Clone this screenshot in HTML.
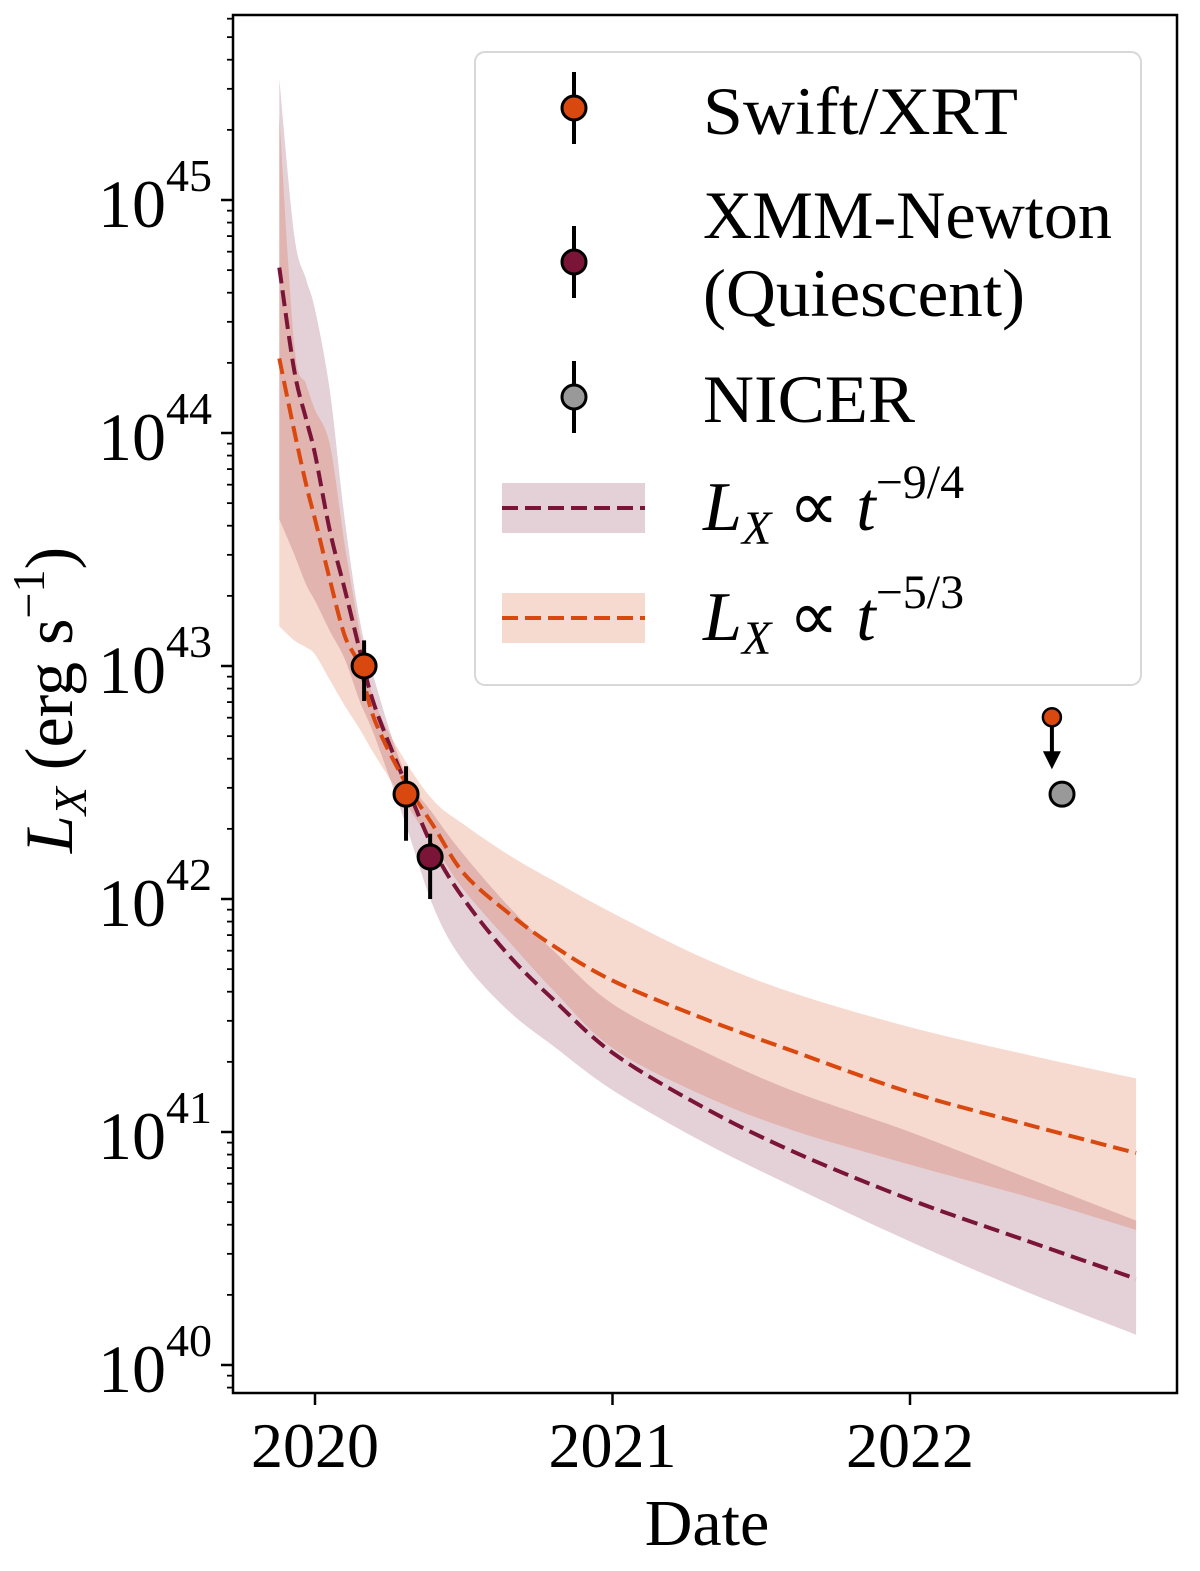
<!DOCTYPE html>
<html><head><meta charset="utf-8"><style>
html,body{margin:0;padding:0;background:#fff;}
svg{display:block;font-family:"Liberation Serif",serif;}
</style></head><body>
<svg id="chart" width="1200" height="1571" viewBox="0 0 1200 1571" xmlns="http://www.w3.org/2000/svg">
<g id="bands"></g><g id="lines"></g><g id="points"></g><g id="axes"></g><g id="legend"></g>
</svg>
<script>
// ---- data ----
const dates = [2019.88,2019.93,2019.97,2020.0,2020.05,2020.1,2020.15,2020.2,2020.3,2020.4,2020.5,2020.65,2020.8,2021.0,2021.3,2021.6,2022.0,2022.4,2022.76];
const logL_t94 = [44.71,44.27,44.06,43.91,43.58,43.33,43.07,42.83,42.51,42.21,42.00,41.76,41.57,41.34,41.11,40.92,40.71,40.53,40.37];
const logL_t94_hi = [45.52,44.85,44.66,44.53,44.18,43.63,43.20,42.94,42.55,42.36,42.19,41.97,41.78,41.55,41.35,41.18,41.00,40.80,40.62];
const logL_t94_lo = [43.63,43.48,43.35,43.28,43.15,43.03,42.85,42.70,42.34,41.96,41.73,41.52,41.37,41.18,40.96,40.77,40.53,40.31,40.13];
const logL_t53 = [44.32,44.01,43.78,43.63,43.37,43.13,43.00,42.77,42.51,42.31,42.11,41.94,41.80,41.65,41.49,41.35,41.17,41.03,40.91];
const logL_t53_hi = [45.36,44.38,44.21,44.10,43.95,43.52,43.15,42.85,42.60,42.42,42.32,42.19,42.08,41.94,41.75,41.60,41.45,41.33,41.23];
const logL_t53_lo = [43.17,43.11,43.08,43.05,42.94,42.83,42.73,42.62,42.42,42.23,42.04,41.82,41.61,41.36,41.16,41.01,40.86,40.72,40.58];
const swiftDates = [2020.165,2020.306];
const swiftLog = [43.00,42.45];
const swiftErrHi = [43.11,42.57];
const swiftErrLo = [42.85,42.25];
const swiftLimDate = [2022.477];
const swiftLimLog = [42.78];
const xmmDates = [2020.387];
const xmmLog = [42.18];
const xmmErrHi = [42.28];
const xmmErrLo = [42.00];
const nicerDates = [2022.511];
const nicerLog = [42.45];
const nicerErrHi = [42.49];
const nicerErrLo = [42.40];
const yDecades = [40,41,42,43,44,45];
const xTicks = [2020,2021,2022];

// ---- axes ----
const PL=233, PR=1177, PT=15, PB=1393;
const X = d => 315 + (d-2020)*297.5;
const Y = l => 200 + (45-l)*233;
const NS="http://www.w3.org/2000/svg";
function mk(tag, attrs, parent){const e=document.createElementNS(NS,tag);for(const k in attrs)e.setAttribute(k,attrs[k]);parent.appendChild(e);return e;}
const gB=document.getElementById('bands'),gL=document.getElementById('lines'),gP=document.getElementById('points'),gA=document.getElementById('axes'),gG=document.getElementById('legend');
const PUR="#7a1538", ORA="#d9480f";

function smooth(pts){
  let d="";
  for(let i=0;i<pts.length-1;i++){
    const p0=pts[Math.max(0,i-1)],p1=pts[i],p2=pts[i+1],p3=pts[Math.min(pts.length-1,i+2)];
    const c1x=p1[0]+(p2[0]-p0[0])/6,c1y=p1[1]+(p2[1]-p0[1])/6;
    const c2x=p2[0]-(p3[0]-p1[0])/6,c2y=p2[1]-(p3[1]-p1[1])/6;
    d+=` C${c1x.toFixed(1)},${c1y.toFixed(1)} ${c2x.toFixed(1)},${c2y.toFixed(1)} ${p2[0].toFixed(1)},${p2[1].toFixed(1)}`;
  }
  return d;
}
function band(hi,lo,color,name){
  const up=dates.map((t,i)=>[X(t),Y(hi[i])]);
  const dn=dates.map((t,i)=>[X(t),Y(lo[i])]).reverse();
  let d="M"+up[0][0]+","+up[0][1]+smooth(up)+" L"+dn[0][0]+","+dn[0][1]+smooth(dn)+"Z";
  const p=mk('path',{d:d,fill:color,'fill-opacity':0.2,stroke:'none'},gB);
  
  
}
band(logL_t94_hi,logL_t94_lo,PUR,'band-t94');
band(logL_t53_hi,logL_t53_lo,ORA,'band-t53');
function line(v,color,name){
  const pts=dates.map((t,i)=>[X(t),Y(v[i])]);
  const d="M"+pts[0][0]+","+pts[0][1]+smooth(pts);
  const p=mk('path',{d:d,fill:'none',stroke:color,'stroke-width':4,'stroke-dasharray':'16,7'},gL);
  
  
}
line(logL_t94,PUR,'line-t94');
line(logL_t53,ORA,'line-t53');

function pt(d,l,hi,lo,color,r,name){
  const x=X(d);
  const e=mk('line',{x1:x,x2:x,y1:Y(hi),y2:Y(lo),stroke:'#000','stroke-width':4},gP);
  
  
  const c=mk('circle',{cx:x,cy:Y(l),r:r,fill:color,stroke:'#000','stroke-width':3},gP);
  
  
}
swiftDates.forEach((d,i)=>pt(d,swiftLog[i],swiftErrHi[i],swiftErrLo[i],ORA,12,'swift-point'));
xmmDates.forEach((d,i)=>pt(d,xmmLog[i],xmmErrHi[i],xmmErrLo[i],PUR,12,'xmm-point'));
nicerDates.forEach((d,i)=>pt(d,nicerLog[i],nicerErrHi[i],nicerErrLo[i],'#999',12,'nicer-point'));
swiftLimDate.forEach((d,i)=>{
  const x=X(d), y=Y(swiftLimLog[i]);
  const a=mk('path',{d:`M${x},${y} L${x},${y+38}`,stroke:'#000','stroke-width':4},gP);
  
  
  const h=mk('path',{d:`M${x-9},${y+34} L${x+9},${y+34} L${x},${y+52}Z`,fill:'#000'},gP);
  
  
  const c=mk('circle',{cx:x,cy:y,r:9,fill:ORA,stroke:'#000','stroke-width':2.5},gP);
  
  
});

const fr=mk('rect',{x:PL,y:PT,width:PR-PL,height:PB-PT,fill:'none',stroke:'#000','stroke-width':2.5},gA);


for(let dec=39; dec<=45; dec++){
  for(let m=1;m<10;m++){
    const l=dec+Math.log10(m), y=Y(l);
    if(y<PT||y>PB) continue;
    const len=m===1?12:6;
    const t=mk('line',{x1:PL-len,x2:PL,y1:y,y2:y,stroke:'#000','stroke-width':m===1?2.5:1.8},gA);
    
    
  }
}
yDecades.forEach(dec=>{
  const y=Y(dec);
  const t=mk('text',{x:98,y:y+27,'font-size':68,fill:'#000'},gA);
  t.textContent='10';
  
  
  const s=mk('tspan',{dy:-36,'font-size':46},t);
  s.textContent=String(dec);
});
xTicks.forEach(yr=>{
  const x=X(yr);
  const t=mk('line',{x1:x,x2:x,y1:PB,y2:PB+12,stroke:'#000','stroke-width':2.5},gA);
  
  
  const l=mk('text',{x:x,y:1467,'font-size':64,'text-anchor':'middle',fill:'#000'},gA);
  l.textContent=String(yr);
  
  
});
const xl=mk('text',{x:707,y:1545,'font-size':66,'text-anchor':'middle',fill:'#000'},gA);
xl.textContent='Date';


const yl=mk('text',{x:0,y:0,'font-size':68,'text-anchor':'middle',fill:'#000',transform:'translate(72,700) rotate(-90)'},gA);


yl.innerHTML='<tspan font-style="italic">L</tspan><tspan font-style="italic" font-size="46" dy="14">X</tspan><tspan dy="-14"> (erg s</tspan><tspan font-size="46" dy="-28">−1</tspan><tspan dy="28">)</tspan>';

const lb=mk('rect',{x:475,y:52,width:666,height:633,rx:10,fill:'#fff','fill-opacity':0.8,stroke:'#d8d8d8','stroke-width':2},gG);


function legPt(cy,color,name){
  const e=mk('line',{x1:574,x2:574,y1:cy-36,y2:cy+36,stroke:'#000','stroke-width':4},gG);
  
  
  const c=mk('circle',{cx:574,cy:cy,r:12,fill:color,stroke:'#000','stroke-width':3},gG);
  
  
}
function legText(y,txt,name,w){
  const t=mk('text',{x:703,y:y,'font-size':68,fill:'#000',textLength:w,lengthAdjust:'spacingAndGlyphs'},gG);
  t.textContent=txt;
  
  
  return t;
}
legPt(108,ORA,'legend-swift-marker'); legText(134,'Swift/XRT','legend-swift-label',315);
legPt(262,PUR,'legend-xmm-marker'); legText(238,'XMM-Newton','legend-xmm-label',409); legText(316,'(Quiescent)','legend-xmm-label-2',322);
legPt(397,'#999','legend-nicer-marker'); legText(422,'NICER','legend-nicer-label',212);
function legBand(cy,color,name,exp){
  const r=mk('rect',{x:502,y:cy-25,width:143,height:50,fill:color,'fill-opacity':0.2},gG);
  
  
  const l=mk('line',{x1:502,x2:645,y1:cy,y2:cy,stroke:color,'stroke-width':4,'stroke-dasharray':'16,7'},gG);
  
  
  const t=mk('text',{x:703,y:cy+22,'font-size':70,fill:'#000'},gG);
  
  
  t.innerHTML='<tspan font-style="italic">L</tspan><tspan font-style="italic" font-size="48" dy="14">X</tspan><tspan dy="-14"> ∝ </tspan><tspan font-style="italic">t</tspan><tspan font-size="48" dy="-32">−'+exp+'</tspan>';
}
legBand(508,PUR,'legend-t94','9/4');
legBand(618,ORA,'legend-t53','5/3');
</script>
</body></html>
